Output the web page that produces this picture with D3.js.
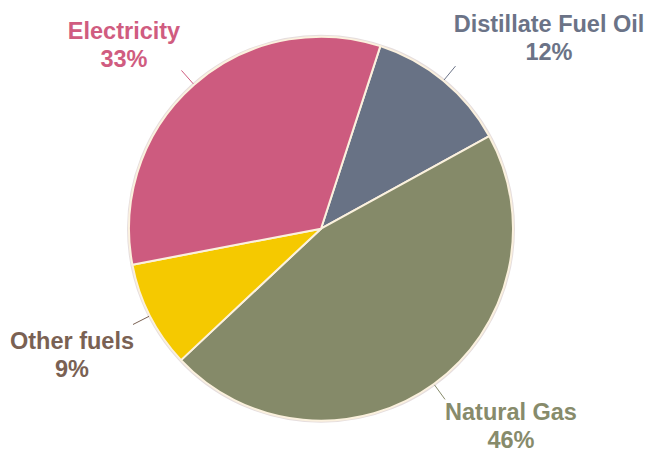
<!DOCTYPE html>
<html><head><meta charset="utf-8">
<script src="https://cdn.jsdelivr.net/npm/d3@7"></script>
<style>html,body{margin:0;padding:0;background:#fff;}svg{display:block;}</style>
</head><body>
<svg id="c" width="648" height="451"></svg>
<script>
const categories = ["Distillate Fuel Oil", "Natural Gas", "Other fuels", "Electricity"];
const values = [12, 46, 9, 33];
const sliceColors = ["#687285", "#858A69", "#F5C900", "#CD5B7F"];
const labelColors = ["#6B7387", "#878B6B", "#7A6153", "#D05C80"];
const labelPos = [[549, 32], [511, 420], [72, 349], [124, 39]];

const W = 648, H = 451, cx = 321, cy = 228.7, R = 192;
const startA = 18 * Math.PI / 180;
const svg = d3.select("#c");
const g = svg.append("g").attr("transform", `translate(${cx},${cy})`);
const pie = d3.pie().sort(null).startAngle(startA).endAngle(startA + 2 * Math.PI);
const arcs = pie(values);
const arc = d3.arc().innerRadius(0).outerRadius(R);

g.append("circle").attr("r", R + 1).attr("fill", "none").attr("stroke", "#e6dede").attr("stroke-width", 2);
g.selectAll("path.s").data(arcs).join("path").attr("class", "s")
  .attr("d", arc).attr("fill", (d, i) => sliceColors[i])
  .attr("stroke", "#FBF1DE").attr("stroke-width", 2).attr("stroke-linejoin", "round");

g.selectAll("line.l").data(arcs).join("line").attr("class", "l")
  .each(function (d, i) {
    const a = (d.startAngle + d.endAngle) / 2;
    d3.select(this)
      .attr("x1", (R + 1) * Math.sin(a)).attr("y1", -(R + 1) * Math.cos(a))
      .attr("x2", 211 * Math.sin(a)).attr("y2", -211 * Math.cos(a));
  })
  .attr("stroke", (d, i) => labelColors[i]).attr("stroke-width", 1);

const t = svg.selectAll("text.lab").data(arcs).join("text").attr("class", "lab")
  .attr("text-anchor", "middle")
  .attr("font-family", "Liberation Sans, Arial, sans-serif")
  .attr("font-weight", "bold").attr("font-size", 23.5)
  .attr("fill", (d, i) => labelColors[i]);
t.append("tspan").attr("x", (d, i) => labelPos[i][0]).attr("y", (d, i) => labelPos[i][1])
  .text((d, i) => categories[i]);
t.append("tspan").attr("x", (d, i) => labelPos[i][0]).attr("y", (d, i) => labelPos[i][1] + 27.5)
  .text((d, i) => values[i] + "%");
</script>
</body></html>
